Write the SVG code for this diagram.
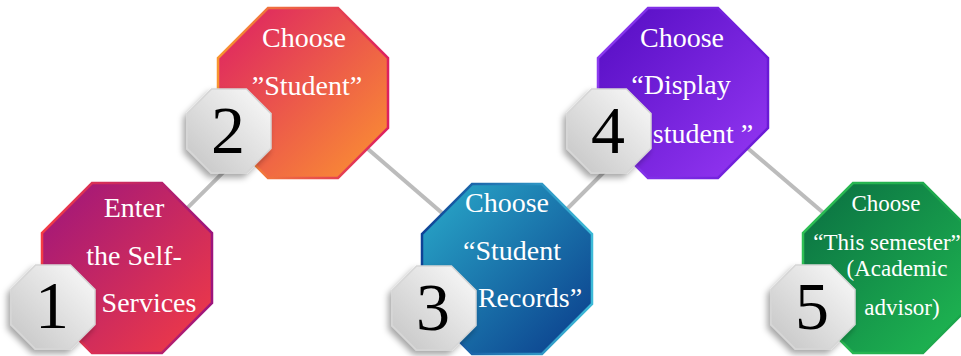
<svg xmlns="http://www.w3.org/2000/svg" width="961" height="356" viewBox="0 0 961 356">
<defs>
<polygon id="oct" points="-35,-85 35,-85 85,-35 85,35 35,85 -35,85 -85,35 -85,-35"/>
<polygon id="badge" points="-17.4,-42 17.4,-42 42,-17.4 42,17.4 17.4,42 -17.4,42 -42,17.4 -42,-17.4"/>
<linearGradient id="f1" x1="0" y1="0" x2="1" y2="1"><stop offset="0" stop-color="#9c157d"/><stop offset="1" stop-color="#f43c44"/></linearGradient>
<linearGradient id="s1" x1="0" y1="0" x2="1" y2="0"><stop offset="0" stop-color="#f43c44"/><stop offset="1" stop-color="#9c157d"/></linearGradient>
<linearGradient id="f2" x1="0" y1="0" x2="1" y2="1"><stop offset="0" stop-color="#dc1e64"/><stop offset="1" stop-color="#fc9530"/></linearGradient>
<linearGradient id="s2" x1="0" y1="0" x2="1" y2="0"><stop offset="0" stop-color="#f8952f"/><stop offset="1" stop-color="#dd205f"/></linearGradient>
<linearGradient id="f3" x1="0" y1="0" x2="1" y2="1"><stop offset="0" stop-color="#2aaccb"/><stop offset="1" stop-color="#0a3a8a"/></linearGradient>
<linearGradient id="s3" x1="0" y1="0" x2="1" y2="0"><stop offset="0" stop-color="#0e4296"/><stop offset="1" stop-color="#3cbad8"/></linearGradient>
<linearGradient id="f4" x1="0" y1="0" x2="1" y2="1"><stop offset="0" stop-color="#540cc2"/><stop offset="1" stop-color="#9638f4"/></linearGradient>
<linearGradient id="s4" x1="0" y1="0" x2="1" y2="0"><stop offset="0" stop-color="#8b3aef"/><stop offset="1" stop-color="#6a1ad6"/></linearGradient>
<linearGradient id="f5" x1="0" y1="0" x2="1" y2="1"><stop offset="0" stop-color="#0a6e42"/><stop offset="1" stop-color="#20bb52"/></linearGradient>
<linearGradient id="s5" x1="0" y1="0" x2="1" y2="0"><stop offset="0" stop-color="#2fbf55"/><stop offset="1" stop-color="#18a24a"/></linearGradient>
<linearGradient id="bg" x1="1" y1="0" x2="0" y2="1"><stop offset="0" stop-color="#fbfbfb"/><stop offset="1" stop-color="#c4c4c4"/></linearGradient>
<filter id="sh" x="-30%" y="-30%" width="160%" height="160%"><feDropShadow dx="-3" dy="4" stdDeviation="3" flood-color="#000" flood-opacity="0.35"/></filter>
</defs>
<style>
.lbl{font-family:"Liberation Serif","Times New Roman",serif;font-size:28px;fill:#fff;text-anchor:middle}
.sm{font-size:23px}
.num{font-family:"Liberation Serif","Times New Roman",serif;font-size:68px;fill:#000;text-anchor:middle}
.bd{fill:url(#bg);stroke:#d6d6d6;stroke-width:1.5;filter:url(#sh)}
.ol{stroke-width:2.5}
.cn{stroke:#bcbcbc;stroke-width:4;fill:none}
</style>
<rect width="961" height="356" fill="#fff"/>
<g id="connectors">
<line class="cn" x1="127" y1="268" x2="303" y2="93"/>
<line class="cn" x1="303" y1="93" x2="507" y2="269"/>
<line class="cn" x1="507" y1="269" x2="683" y2="93"/>
<line class="cn" x1="683" y1="93" x2="888" y2="268"/>
</g>
<g id="step1">
<use href="#oct" x="127" y="268" fill="url(#f1)" stroke="url(#s1)" class="ol"/>
<text class="lbl" x="134" y="217">Enter</text>
<text class="lbl" x="134" y="265">the Self-</text>
<text class="lbl" x="149" y="312">Services</text>
<use href="#badge" x="53" y="307" class="bd"/>
<text class="num" x="52" y="328">1</text>
</g>
<g id="step2">
<use href="#oct" x="303" y="93" fill="url(#f2)" stroke="url(#s2)" class="ol"/>
<text class="lbl" x="304" y="47">Choose</text>
<text class="lbl" x="307" y="95">”Student”</text>
<use href="#badge" x="229" y="131" class="bd"/>
<text class="num" x="228" y="153">2</text>
</g>
<g id="step3">
<use href="#oct" x="507" y="269" fill="url(#f3)" stroke="url(#s3)" class="ol"/>
<text class="lbl" x="507" y="212">Choose</text>
<text class="lbl" x="512" y="260">“Student</text>
<text class="lbl" x="530" y="307">Records”</text>
<use href="#badge" x="434" y="308" class="bd"/>
<text class="num" x="433" y="330">3</text>
</g>
<g id="step4">
<use href="#oct" x="683" y="93" fill="url(#f4)" stroke="url(#s4)" class="ol"/>
<text class="lbl" x="682" y="47">Choose</text>
<text class="lbl" x="681" y="94">“Display</text>
<text class="lbl" x="703" y="143">student ”</text>
<use href="#badge" x="609" y="131" class="bd"/>
<text class="num" x="608" y="153">4</text>
</g>
<g id="step5">
<use href="#oct" x="888" y="268" fill="url(#f5)" stroke="url(#s5)" class="ol"/>
<text class="lbl sm" x="886" y="211">Choose</text>
<text class="lbl sm" x="887" y="250">“This semester”</text>
<text class="lbl sm" x="897" y="276">(Academic</text>
<text class="lbl sm" x="902" y="315">advisor)</text>
<use href="#badge" x="813" y="307" class="bd"/>
<text class="num" x="812" y="329">5</text>
</g>
</svg>
